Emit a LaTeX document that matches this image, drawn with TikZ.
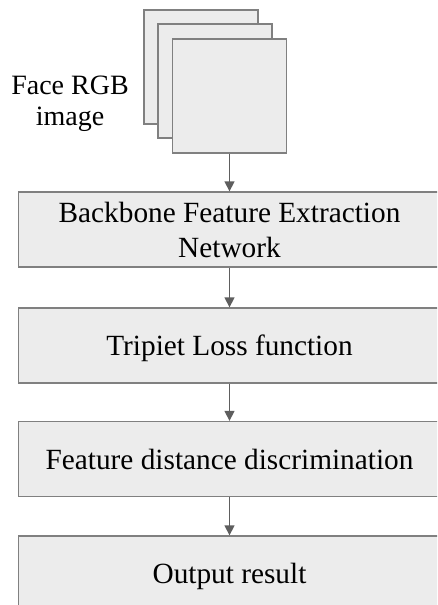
\documentclass[tikz,border=0pt]{standalone}
\usepackage{fontspec}
\setmainfont{Liberation Serif}
\usetikzlibrary{arrows.meta}
\definecolor{boxfill}{HTML}{ECECEC}
\definecolor{boxline}{HTML}{808080}
\definecolor{arrowgray}{HTML}{5E5E5E}
\begin{document}
\begin{tikzpicture}[x=1pt,y=-1pt,
  stage/.style={draw=boxline, fill=boxfill, line width=1.3pt,
    minimum width=422pt, minimum height=75pt, inner sep=0pt,
    text depth=0pt, align=center, font=\fontsize{29.3}{35}\selectfont},
  layer/.style={draw=boxline, fill=boxfill, line width=1.3pt,
    minimum size=114pt, inner sep=0pt},
  caption/.style={align=center, inner sep=0pt, font=\fontsize{28}{31}\selectfont},
  flow/.style={draw=arrowgray, line width=1.3pt, -{Triangle[length=10pt,width=10pt]}}]
\useasboundingbox (0,0) rectangle (437,605);
\clip (0,0) rectangle (437,605);

% stack of input image channels
\node[layer] (back)  at (201,67) {};
\node[layer] (mid)   at (215,81) {};
\node[layer] (front) at (229.5,96) {};
\node[caption] (face) at (70,104) {Face RGB\\image};

% processing stages
\node[stage] (b1) at (229.5,229.5) {Backbone Feature Extraction\\Network};
\node[stage] (b2) at (229.5,345.5) {Tripiet Loss function};
\node[stage] (b3) at (229.5,459)   {Feature distance discrimination};
\node[stage] (b4) at (229.5,573.5) {Output result};

% connectors
\draw[flow] (front.south) -- (b1.north);
\draw[flow] (b1.south) -- (b2.north);
\draw[flow] (b2.south) -- (b3.north);
\draw[flow] (b3.south) -- (b4.north);
\end{tikzpicture}
\end{document}
